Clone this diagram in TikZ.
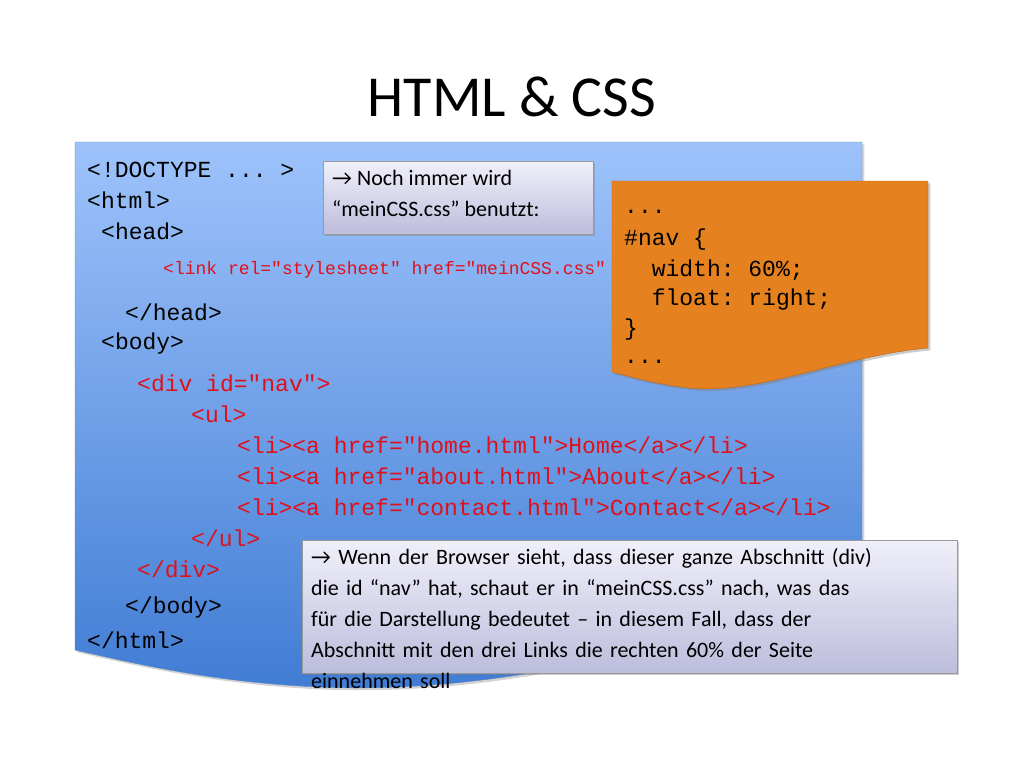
\documentclass[tikz,border=0pt]{standalone}
\usepackage{fontspec}
\setmainfont{Carlito}
\setmonofont{Liberation Mono}
\usetikzlibrary{shadows}
\definecolor{codered}{HTML}{E0101A}
\definecolor{blueT}{HTML}{9EC3FB}
\definecolor{blueB}{HTML}{3F7BD3}
\definecolor{blueE}{HTML}{5A86C8}
\definecolor{orangeF}{HTML}{E5821F}
\definecolor{orangeE}{HTML}{B8651A}
\definecolor{lavT}{HTML}{F0F0FA}
\definecolor{lavB}{HTML}{BDBDDD}
\begin{document}
\begin{tikzpicture}[x=1pt,y=-1pt,
  code/.style={anchor=west,inner sep=0pt,font=\fontsize{23}{23}\selectfont\ttfamily},
  red/.style={code,text=codered},
  callout/.style={draw=gray!80,top color=lavT,bottom color=lavB,drop shadow={opacity=0.4}},
  ctext/.style={anchor=north west,inner sep=0pt,align=left,font=\fontsize{22}{31}\selectfont}]
\useasboundingbox (0,0) rectangle (1024,768);
\node[font=\fontsize{58}{58}\selectfont] (title) at (512,97) {HTML \& CSS};
% blue document
\path[draw=blueE,top color=blueT,bottom color=blueB,drop shadow={opacity=0.35}]
  (75,142) -- (862,142) -- (862,600) .. controls (700,630) and (520,700) .. (300,686)
  .. controls (200,680) and (120,660) .. (75,650) -- cycle;
\node[code] (l1) at (87,170) {<!DOCTYPE ... >};
\node[code] (l2) at (87,200) {<html>};
\node[code] (l3) at (101,231) {<head>};
\node[red,font=\fontsize{18}{18}\selectfont\ttfamily] (l4) at (163,270) {<link rel="stylesheet" href="meinCSS.css" />};
\node[code] (l5) at (125,312) {</head>};
\node[code] (l6) at (101,344) {<body>};
\node[red] (l7) at (137,383) {<div id="nav">};
\node[red] (l8) at (191,414) {<ul>};
\node[red] (l9) at (237,445) {<li><a href="home.html">Home</a></li>};
\node[red] (l10) at (237,476) {<li><a href="about.html">About</a></li>};
\node[red] (l11) at (237,507) {<li><a href="contact.html">Contact</a></li>};
\node[red] (l12) at (191,538) {</ul>};
\node[red] (l13) at (137,569) {</div>};
\node[code] (l14) at (125,608) {</body>};
\node[code] (l15) at (87,640) {</html>};
% orange css
\path[draw=orangeE,fill=orangeF,drop shadow={opacity=0.4}]
  (612,181) -- (928,181) -- (928,348) .. controls (840,356) and (760,395) .. (690,388)
  .. controls (660,385) and (635,378) .. (612,372) -- cycle;
\node[code] (c1) at (624,212) {...};
\node[code] (c2) at (624,240) {\#nav \{};
\node[code] (c3) at (624,270) {\ \ width: 60\%;};
\node[code] (c4) at (624,300) {\ \ float: right;};
\node[code] (c5) at (624,330) {\}};
\node[code] (c6) at (624,362) {...};
% callouts
\path[callout] (323,161) rectangle (593,234);
\node[ctext] (t1) at (332,170) {→ Noch immer wird\\“meinCSS.css” benutzt:};
\path[callout] (302,540) rectangle (957,673);
\node[ctext,text width=640pt] (t2) at (311,548) {→ Wenn der Browser sieht, dass dieser ganze Abschnitt (div)\\die id “nav” hat, schaut er in “meinCSS.css” nach, was das\\für die Darstellung bedeutet – in diesem Fall, dass der\\Abschnitt mit den drei Links die rechten 60\% der Seite\\einnehmen soll};
\end{tikzpicture}
\end{document}
